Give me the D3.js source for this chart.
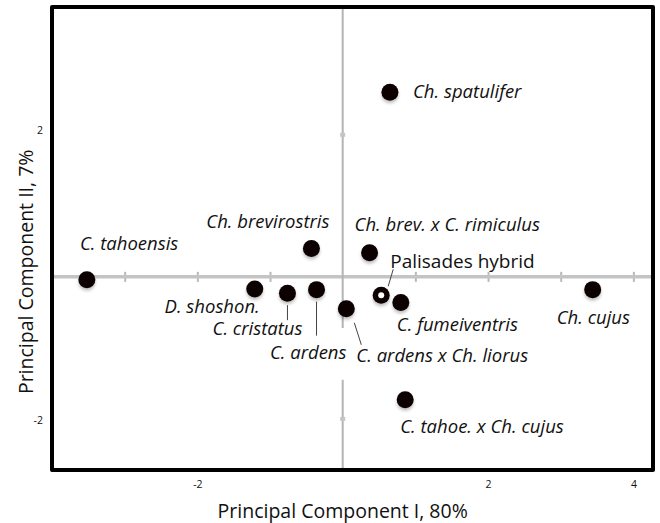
<!DOCTYPE html>
<meta charset="utf-8">
<script src="https://d3js.org/d3.v7.min.js"></script>
<style>
  body { margin: 0; background: #fff; }
  text { font-family: "Open Sans", sans-serif; fill: #111; }
</style>
<body>
<div id="chart"></div>
<script>
// PCA scores
var taxa = ["C. tahoensis", "Ch. brevirostris", "Ch. spatulifer", "Ch. brev. x C. rimiculus",
            "Palisades hybrid", "C. fumeiventris", "Ch. cujus", "D. shoshon.",
            "C. cristatus", "C. ardens", "C. ardens x Ch. liorus", "C. tahoe. x Ch. cujus"];
var pc1 = [-3.52, -0.43, 0.65, 0.37, 0.53, 0.80, 3.44, -1.21, -0.76, -0.36, 0.05, 0.86];
var pc2 = [-0.04, 0.40, 2.60, 0.34, -0.26, -0.36, -0.18, -0.17, -0.23, -0.18, -0.45, -1.73];
var hybrid = "Palisades hybrid";

var xTicks = [-3, -2, -1, 0, 1, 2, 3, 4];
var xTickLabels = [-2, 2, 4];
var yTicks = [-2, 2];
// the vertical axis line is broken where the C. ardens label sits
var vGap = [-1.45, -0.72];

// label placement relative to each point (px): dx, dy, anchor, leader line
var labelPos = {
  "C. tahoensis":            {dx: -7,  dy: -30, anchor: "start"},
  "Ch. brevirostris":        {dx: 18,  dy: -20, anchor: "end"},
  "Ch. spatulifer":          {dx: 23,  dy: 6,   anchor: "start"},
  "Ch. brev. x C. rimiculus": {dx: -15, dy: -22, anchor: "start"},
  "Palisades hybrid":        {dx: 9,   dy: -27, anchor: "start", lead: [7, -9, 12, -26]},
  "C. fumeiventris":         {dx: -4,  dy: 29,  anchor: "start"},
  "Ch. cujus":               {dx: -36, dy: 34,  anchor: "start"},
  "D. shoshon.":             {dx: 5,   dy: 24,  anchor: "end"},
  "C. cristatus":            {dx: 15,  dy: 42,  anchor: "end", lead: [0, 12, 0, 27]},
  "C. ardens":               {dx: 30,  dy: 69,  anchor: "end", lead: [0, 12, 0, 46]},
  "C. ardens x Ch. liorus":  {dx: 10,  dy: 53,  anchor: "start", lead: [8, 14, 15, 36]}
};
labelPos["C. tahoe. x Ch. cujus"] = {dx: -5, dy: 33, anchor: "start"};

var W = 660, H = 523;
var box = {left: 52, right: 653, top: 7, bottom: 470};

var svg = d3.select("#chart").append("svg")
    .attr("width", W).attr("height", H);

var defs = svg.append("defs");
var f = defs.append("filter").attr("id", "shadow")
    .attr("x", "-50%").attr("y", "-50%").attr("width", "200%").attr("height", "200%");
f.append("feDropShadow").attr("dx", 0).attr("dy", 2.5).attr("stdDeviation", 1.5)
    .attr("flood-color", "#000").attr("flood-opacity", 0.25);

var x = d3.scaleLinear().domain([-4, 4.27]).range([box.left, box.right]);
var y = d3.scaleLinear().domain([-2.72, 3.8]).range([box.bottom, box.top]);
var fmt = function (d) { return String(d); };

// horizontal zero line with unit ticks
var hAxis = svg.append("g")
    .attr("transform", "translate(0," + y(0) + ")")
    .call(d3.axisBottom(x).tickValues(xTicks).tickSize(0).tickFormat(""));
hAxis.select(".domain").remove();
hAxis.append("line")
    .attr("x1", box.left).attr("x2", box.right)
    .attr("stroke", "#c4c4c4").attr("stroke-width", 3.5);
hAxis.selectAll(".tick line")
    .attr("y1", -5).attr("y2", 5)
    .attr("stroke", "#b8b8b8").attr("stroke-width", 2);
hAxis.selectAll(".tick").filter(function (d) { return d === 0; }).remove();

// vertical zero line
var vAxis = svg.append("g")
    .attr("transform", "translate(" + x(0) + ",0)");
vAxis.append("line")
    .attr("y1", y(3.8)).attr("y2", y(vGap[1]))
    .attr("stroke", "#b4b4b4").attr("stroke-width", 2);
vAxis.append("line")
    .attr("y1", y(vGap[0])).attr("y2", y(-2.72))
    .attr("stroke", "#b4b4b4").attr("stroke-width", 2);
vAxis.selectAll(".vt").data(yTicks).enter().append("line")
    .attr("x1", -2.5).attr("x2", 2.5)
    .attr("y1", function (d) { return y(d); }).attr("y2", function (d) { return y(d); })
    .attr("stroke", "#c4c4c4").attr("stroke-width", 4);

// frame
svg.append("rect")
    .attr("x", box.left).attr("y", box.top)
    .attr("width", box.right - box.left).attr("height", box.bottom - box.top)
    .attr("fill", "none").attr("stroke", "#000").attr("stroke-width", 4)
    .attr("stroke-linejoin", "round");

// outer tick labels
var xLab = svg.append("g")
    .attr("transform", "translate(0," + (box.bottom + 8) + ")")
    .call(d3.axisBottom(x).tickValues(xTickLabels).tickSize(0).tickFormat(fmt));
xLab.select(".domain").remove();
xLab.selectAll("text").style("font-family", "'Open Sans', sans-serif")
    .style("font-size", "10.5px").attr("fill", "#111");

var yLab = svg.append("g")
    .attr("transform", "translate(" + (box.left - 6) + ",0)")
    .call(d3.axisLeft(y).tickValues(yTicks).tickSize(0).tickFormat(fmt));
yLab.select(".domain").remove();
yLab.selectAll("text").style("font-family", "'Open Sans', sans-serif")
    .style("font-size", "10.5px").attr("fill", "#111")
    .attr("dy", function (d) { return d > 0 ? "-0.1em" : "0.45em"; });

// axis titles
svg.append("text")
    .attr("x", x(0)).attr("y", 518)
    .attr("text-anchor", "middle")
    .style("font-size", "19.5px")
    .text("Principal Component I, 80%");
svg.append("text")
    .attr("transform", "translate(33," + (y(0) - 5) + ") rotate(-90)")
    .attr("text-anchor", "middle")
    .style("font-size", "19.5px")
    .text("Principal Component II, 7%");

var data = taxa.map(function (t, i) { return {name: t, x: pc1[i], y: pc2[i]}; });

// leader lines
svg.selectAll(".lead").data(data.filter(function (d) { return labelPos[d.name].lead; }))
  .enter().append("line")
    .attr("x1", function (d) { return x(d.x) + labelPos[d.name].lead[0]; })
    .attr("y1", function (d) { return y(d.y) + labelPos[d.name].lead[1]; })
    .attr("x2", function (d) { return x(d.x) + labelPos[d.name].lead[2]; })
    .attr("y2", function (d) { return y(d.y) + labelPos[d.name].lead[3]; })
    .attr("stroke", "#444").attr("stroke-width", 1);

// points
svg.selectAll(".pt").data(data).enter().append("circle")
    .attr("cx", function (d) { return x(d.x); })
    .attr("cy", function (d) { return y(d.y); })
    .attr("r", 8.5)
    .attr("fill", "#0a0203")
    .attr("filter", "url(#shadow)");
svg.selectAll(".hole").data(data.filter(function (d) { return d.name === hybrid; }))
  .enter().append("circle")
    .attr("cx", function (d) { return x(d.x); })
    .attr("cy", function (d) { return y(d.y); })
    .attr("r", 3)
    .attr("fill", "#fff");

// labels
svg.selectAll(".lbl").data(data).enter().append("text")
    .attr("x", function (d) { return x(d.x) + labelPos[d.name].dx; })
    .attr("y", function (d) { return y(d.y) + labelPos[d.name].dy; })
    .attr("text-anchor", function (d) { return labelPos[d.name].anchor; })
    .style("font-style", function (d) { return d.name === hybrid ? "normal" : "italic"; })
    .style("font-size", function (d) { return d.name === hybrid ? "19px" : "18.5px"; })
    .text(function (d) { return d.name; });
</script>
</body>
